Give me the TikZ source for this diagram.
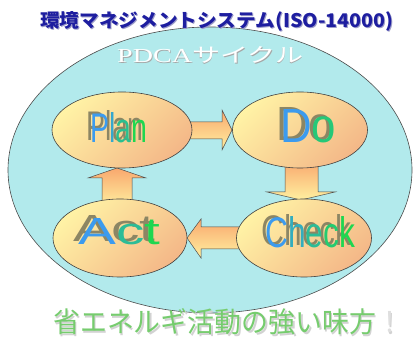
\documentclass[tikz,border=0pt]{standalone}
\usepackage{fontspec}
\usepackage{graphicx}
\setmainfont{Liberation Sans}
\newfontfamily\jp{Noto Sans CJK JP}
\newfontfamily\serifl{Liberation Serif}
\definecolor{bgcyan}{RGB}{178,234,236}
\definecolor{ellY}{RGB}{255,242,165}
\definecolor{ellO}{RGB}{244,184,136}
\definecolor{arrO}{RGB}{249,168,110}
\definecolor{arrY}{RGB}{255,240,160}
\definecolor{blueA}{RGB}{60,155,238}
\definecolor{greenA}{RGB}{30,215,80}
\definecolor{shad}{RGB}{140,134,100}
\definecolor{titleblue}{RGB}{30,30,160}
\definecolor{lgreen}{RGB}{118,204,110}
\usetikzlibrary{shapes.geometric}
% shadowed text: #1 dx, #2 dy, #3 shadow colour, #4 width, #5 height, #6 plain text, #7 coloured text
\newcommand\shtext[7]{\makebox[0pt][l]{\hspace*{#1}\raisebox{#2}{\textcolor{#3}{\resizebox{#4}{#5}{#6}}}}\resizebox{#4}{#5}{#7}}
\tikzset{
  bigell/.style={ellipse, draw=black!70, line width=0.6pt, fill=bgcyan},
  phase/.style={ellipse, draw=black!75, line width=0.6pt, top color=ellY, bottom color=ellO, shading angle=45},
  blockarrow/.style={draw=black!70, line width=0.5pt, top color=arrO, bottom color=arrY},
  txt/.style={inner sep=0pt, anchor=base west},
}
\begin{document}
\begin{tikzpicture}[x=1pt,y=1pt]
\useasboundingbox (0,0) rectangle (414,347);
\fill[white] (0,0) rectangle (414,347);
% big ellipse
\node[bigell, minimum width=404pt, minimum height=286pt] (cycle) at (210,177) {};
% block arrows (behind phases)
\draw[blockarrow] (180,225) -- (222,225) -- (222,237) -- (232,217) -- (222,197) -- (222,208) -- (180,208) -- cycle;
\draw[blockarrow] (285,186) -- (318,186) -- (318,155) -- (335,155) -- (301,147) -- (267,155) -- (285,155) -- cycle;
\draw[blockarrow] (245,120) -- (201,120) -- (201,128) -- (187,109) -- (201,89) -- (201,98) -- (245,98) -- cycle;
\draw[blockarrow] (102,140) -- (102,169) -- (88,169) -- (117,179) -- (146,169) -- (132,169) -- (132,140) -- cycle;
% phases
\node[phase, minimum width=140pt, minimum height=76pt] (plan) at (122,217) {};
\node[phase, minimum width=135pt, minimum height=76pt] (do) at (300,217) {};
\node[phase, minimum width=135pt, minimum height=78pt] (check) at (304,109) {};
\node[phase, minimum width=134pt, minimum height=78pt] (act) at (120,109) {};
% words
\node[txt] (planT) at (90,204) {\shtext{-3.5pt}{2.5pt}{shad}{57pt}{30pt}{Plan}{\textcolor{blueA}{P}\textcolor{greenA!20!blueA}{l}\textcolor{greenA!60!blueA}{a}\textcolor{greenA}{n}}};
\node[txt] (doT) at (280,204) {\shtext{-3.5pt}{2.5pt}{shad}{56pt}{33pt}{Do}{\textcolor{blueA}{D}\textcolor{greenA!75!blueA}{o}}};
\node[txt] (checkT) at (265,99) {\shtext{-3.5pt}{2.5pt}{shad}{90pt}{31pt}{Check}{\textcolor{blueA}{C}\textcolor{greenA!30!blueA}{h}\textcolor{greenA!55!blueA}{e}\textcolor{greenA!80!blueA}{c}\textcolor{greenA}{k}}};
\node[txt] (actT) at (78,102) {\shtext{-4.5pt}{3pt}{shad}{82pt}{26pt}{Act}{\textcolor{blueA}{A}\textcolor{greenA!55!blueA}{c}\textcolor{greenA}{t}}};
% titles
\node[txt, text=titleblue] (title) at (40,319) {\shtext{1pt}{-1pt}{blue!30!gray!60}{353pt}{16pt}{\jp\bfseries 環境マネジメントシステム(ISO-14000)}{\jp\bfseries 環境マネジメントシステム(ISO-14000)}};
\node[txt, text=white] (pdca) at (117,284) {\shtext{0.8pt}{-0.8pt}{gray!70}{186pt}{16pt}{\serifl PDCA\jp サイクル}{\serifl PDCA\jp サイクル}};
\node[txt, text=lgreen] (slogan) at (53,14) {\shtext{1.5pt}{-1.5pt}{gray!35}{350pt}{24pt}{\jp 省エネルギ活動の強い味方！}{\jp 省エネルギ活動の強い味方\textcolor{gray!25}{！}}};
\end{tikzpicture}
\end{document}
